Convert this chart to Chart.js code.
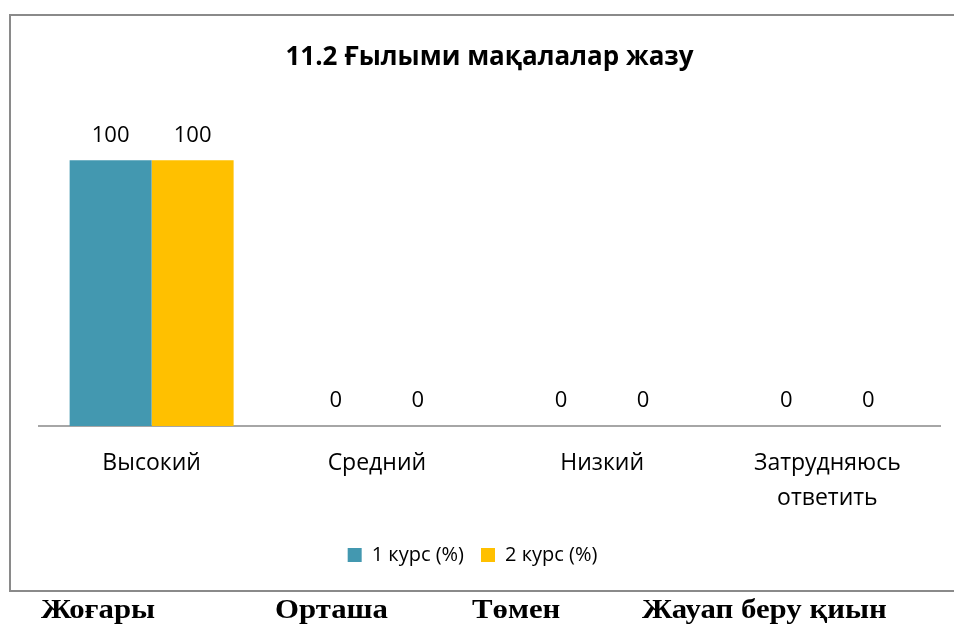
<!DOCTYPE html>
<html>
<head>
<meta charset="utf-8">
<script src="https://cdn.jsdelivr.net/npm/chart.js@4"></script>
<style>
  html, body { margin: 0; padding: 0; background: #fff; }
  #wrap { position: relative; width: 954px; height: 628px; overflow: hidden; }
  #frame { position: absolute; left: 9px; top: 14px; width: 1000px; height: 574px; border: 2px solid #8a8a8a; border-right: none; }
  #c { position: absolute; left: 0; top: 0; }
  .bt { position: absolute; top: 593px; font-family: "Liberation Serif", "DejaVu Serif", serif; font-weight: bold; font-size: 28px; line-height: 32px; color: #000; white-space: nowrap; transform-origin: left top; transform: scaleX(1.1); }
</style>
</head>
<body>
<div id="wrap">
  <div id="frame"></div>
  <canvas id="c" width="954" height="628"></canvas>
  <span class="bt" style="left:41px">Жоғары</span>
  <span class="bt" style="left:275px">Орташа</span>
  <span class="bt" style="left:472px">Төмен</span>
  <span class="bt" style="left:642px">Жауап беру қиын</span>
</div>
<script>
const titleText = '11.2 Ғылыми мақалалар жазу';
const categories = ['Высокий', 'Средний', 'Низкий', ['Затрудняюсь', 'ответить']];
const seriesNames = ['1 курс (%)', '2 курс (%)'];
const course1 = [100, 0, 0, 0];
const course2 = [100, 0, 0, 0];
const seriesColors = ['#4398B0', '#FFC000'];

const valueLabels = {
  id: 'valueLabels',
  afterDatasetsDraw(chart) {
    const ctx = chart.ctx;
    ctx.save();
    ctx.font = '22px "Open Sans"';
    ctx.fillStyle = '#000';
    ctx.textAlign = 'center';
    ctx.textBaseline = 'middle';
    chart.data.datasets.forEach((ds, i) => {
      chart.getDatasetMeta(i).data.forEach((bar, j) => {
        ctx.fillText(String(ds.data[j]), bar.x, bar.y - 25);
      });
    });
    ctx.restore();
  }
};

const legendShift = {
  id: 'legendShift',
  afterLayout(chart) {
    const lg = chart.legend;
    if (lg) { lg.left -= 17; lg.right -= 17; lg.top -= 8; lg.bottom -= 8; }
  }
};

new Chart(document.getElementById('c'), {
  type: 'bar',
  data: {
    labels: categories,
    datasets: [
      { label: seriesNames[0], data: course1, backgroundColor: seriesColors[0] },
      { label: seriesNames[1], data: course2, backgroundColor: seriesColors[1] }
    ]
  },
  options: {
    responsive: false,
    animation: false,
    events: [],
    layout: { padding: { left: 39, right: 14, top: 42, bottom: 45 } },
    datasets: { bar: { categoryPercentage: 0.728, barPercentage: 1.0 } },
    scales: {
      x: {
        grid: { display: false, drawTicks: false },
        border: { display: true, color: '#a6a6a6', width: 2 },
        ticks: {
          color: '#000',
          padding: 20,
          maxRotation: 0,
          autoSkip: false,
          font: { family: '"Open Sans"', size: 23, lineHeight: 1.52 }
        }
      },
      y: { display: false, min: 0, max: 120 }
    },
    plugins: {
      title: {
        display: true,
        text: titleText,
        color: '#000',
        font: { family: '"Open Sans"', size: 26, weight: 'bold', lineHeight: 1.2 },
        padding: { top: 0, bottom: 34 }
      },
      legend: {
        position: 'bottom',
        labels: {
          color: '#000',
          boxWidth: 14,
          boxHeight: 14,
          padding: 17,
          font: { family: '"Open Sans"', size: 20 }
        }
      },
      tooltip: { enabled: false }
    }
  },
  plugins: [valueLabels, legendShift]
});
</script>
</body>
</html>
